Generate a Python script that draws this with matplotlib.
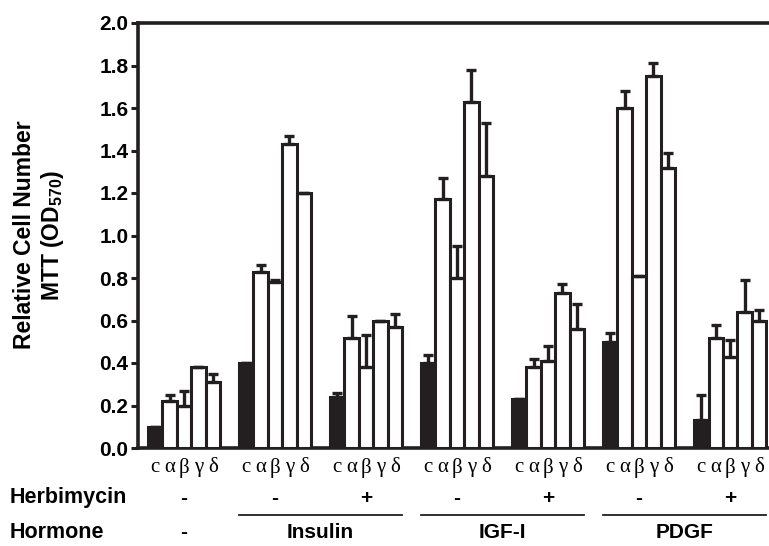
import numpy as np
import matplotlib.pyplot as plt
from matplotlib.transforms import blended_transform_factory

plt.rcParams['font.family'] = ['Liberation Sans', 'DejaVu Sans']
plt.rcParams['mathtext.fontset'] = 'custom'
plt.rcParams['mathtext.rm'] = 'Liberation Sans:bold'
plt.rcParams['mathtext.bf'] = 'Liberation Sans:bold'
plt.rcParams['mathtext.default'] = 'bf'

bar_names = ['c', 'α', 'β', 'γ', 'δ']
herbimycin = ['-', '-', '+', '-', '+', '-', '+']
hormones = ['Insulin', 'IGF-I', 'PDGF']

# bar heights per group (c, alpha, beta, gamma, delta)
means = [
    [0.10, 0.22, 0.20, 0.38, 0.31],
    [0.40, 0.83, 0.78, 1.43, 1.20],
    [0.24, 0.52, 0.38, 0.60, 0.57],
    [0.40, 1.17, 0.80, 1.63, 1.28],
    [0.23, 0.38, 0.41, 0.73, 0.56],
    [0.50, 1.60, 0.81, 1.75, 1.32],
    [0.13, 0.52, 0.43, 0.64, 0.60],
]
# upper error bars
errors = [
    [0.00, 0.03, 0.07, 0.00, 0.04],
    [0.00, 0.03, 0.01, 0.04, 0.00],
    [0.02, 0.10, 0.15, 0.00, 0.06],
    [0.04, 0.10, 0.15, 0.15, 0.25],
    [0.00, 0.04, 0.07, 0.04, 0.12],
    [0.04, 0.08, 0.00, 0.06, 0.07],
    [0.12, 0.06, 0.08, 0.15, 0.05],
]

ink = '#231f20'
step = 6.32

fig = plt.figure(figsize=(7.69, 5.46), dpi=100)
ax = fig.add_axes([138 / 769, 1 - 448 / 546, 630 / 769, 425 / 546])

ticks = []
for g in range(len(means)):
    x = g * step + np.arange(5) + 0.5
    ticks.extend(x)
    colors = [ink] + ['white'] * 4
    ax.bar(x, means[g], width=1, color=colors, edgecolor=ink, linewidth=2.2, zorder=3)
    ax.errorbar(x, means[g], yerr=[np.zeros(5), errors[g]], fmt='none',
                ecolor=ink, elinewidth=2.4, capsize=3.8, capthick=2.4, zorder=4)

ax.set_xlim(-0.69, 6 * step + 5 + 0.13)
ax.set_ylim(0, 2.0)
ax.set_yticks(np.arange(0, 2.01, 0.2))
ax.set_yticklabels([f'{v:.1f}' for v in np.arange(0, 2.01, 0.2)],
                   fontsize=15, fontweight='bold')
ax.tick_params(axis='y', length=5, width=2.2, color=ink, pad=2)
ax.set_xticks(ticks)
ax.set_xticklabels(bar_names * len(means), family=['Liberation Serif', 'DejaVu Serif'],
                   fontsize=15)
ax.tick_params(axis='x', length=0, pad=7)
for s in ['left', 'top', 'bottom']:
    ax.spines[s].set_linewidth(2.6)
    ax.spines[s].set_color(ink)
ax.spines['right'].set_visible(False)

trans = blended_transform_factory(ax.transData, ax.transAxes)
y_herb = (448 - 498) / 425
y_line = (448 - 515) / 425
y_horm = (448 - 532) / 425
for g, sign in enumerate(herbimycin):
    ax.text(g * step + 2.5, y_herb, sign, transform=trans, ha='center', va='center',
            fontsize=15, fontweight='bold')
ax.text(2.5, y_horm, '-', transform=trans, ha='center', va='center',
        fontsize=15, fontweight='bold')
for i, name in enumerate(hormones):
    x0 = (1 + 2 * i) * step
    x1 = (2 + 2 * i) * step + 5
    ax.plot([x0, x1], [y_line, y_line], transform=trans, color=ink, lw=1.3, clip_on=False)
    ax.text((x0 + x1) / 2, y_horm, name, transform=trans, ha='center', va='center',
            fontsize=15, fontweight='bold')

fig.text(10 / 769, 1 - 498 / 546, 'Herbimycin', ha='left', va='center',
         fontsize=15.5, fontweight='bold')
fig.text(10 / 769, 1 - 532 / 546, 'Hormone', ha='left', va='center',
         fontsize=15.5, fontweight='bold')
fig.text(40 / 769, 1 - 235 / 546, 'Relative Cell Number\nMTT (OD$_{570}$)',
         rotation=90, ha='center', va='center', fontsize=16.5, fontweight='bold',
         linespacing=1.15)

fig.savefig('out.png', dpi=100)
